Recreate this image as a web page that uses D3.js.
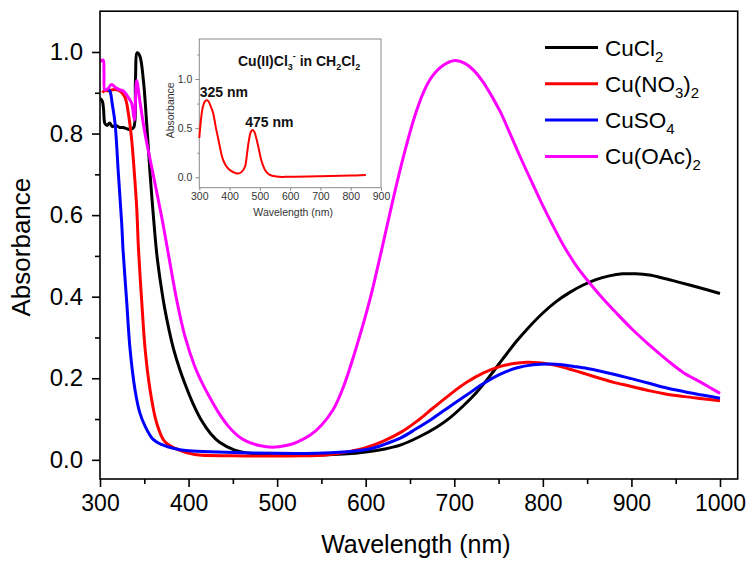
<!DOCTYPE html>
<html>
<head>
<meta charset="utf-8">
<script src="https://cdn.jsdelivr.net/npm/d3@7"></script>
<style>
  body { margin: 0; background: #fff; }
  text { font-family: "Liberation Sans", Arial, sans-serif; }
</style>
</head>
<body>
<svg id="chart" width="749" height="562"></svg>
<script>
// UV-Vis absorbance spectra of copper salts: [wavelength (nm), absorbance]
const cuCl2 = [
  [300,0.886],[302.5,0.88],[304,0.86],[305.5,0.825],[308,0.82],[311,0.826],[314,0.817],
  [318,0.82],[322,0.815],[326,0.815],[330,0.812],[334,0.81],[338,0.815],[340,0.93],
  [342,0.998],[345,0.99],[349,0.93],[352.7,0.825],[356.5,0.703],[360,0.605],[364,0.507],
  [368,0.44],[373,0.372],[378,0.318],[383,0.272],[390,0.222],[396,0.186],[405,0.138],
  [415,0.095],[425,0.064],[435,0.043],[452,0.024],[470,0.016],[500,0.012],[550,0.012],
  [575,0.014],[600,0.019],[620,0.026],[639,0.036],[660,0.056],[680,0.08],[695,0.103],
  [710,0.132],[725,0.165],[740,0.205],[755,0.248],[770,0.29],[785,0.327],[800,0.36],
  [815,0.388],[830,0.41],[845,0.428],[860,0.442],[875,0.451],[890,0.456],[905,0.456],
  [920,0.453],[935,0.446],[951,0.437],[975,0.423],[1000,0.408]
];
const cuNO32 = [
  [303,0.9],[305,0.905],[310,0.905],[316,0.908],[322,0.905],[328,0.89],[332,0.85],
  [335.8,0.784],[338.8,0.703],[341.4,0.62],[343.5,0.515],[347,0.392],[351,0.27],
  [356.5,0.172],[364,0.09],[373,0.045],[388,0.025],[407,0.013],[450,0.01],[530,0.01],
  [555,0.012],[570,0.016],[585,0.022],[600,0.03],[620,0.046],[640,0.068],[658,0.095],
  [676,0.127],[695,0.16],[714,0.19],[733,0.213],[752,0.229],[767,0.236],[782,0.239],
  [795,0.238],[808,0.234],[821,0.228],[834,0.22],[849,0.21],[864,0.2],[880,0.19],
  [900,0.18],[921,0.169],[940,0.161],[960,0.155],[980,0.15],[1000,0.145]
];
const cuSO4 = [
  [308,0.91],[311,0.905],[314,0.87],[317,0.825],[320.7,0.703],[324.5,0.58],[326,0.515],
  [330,0.392],[334,0.27],[339.5,0.172],[345,0.115],[351,0.082],[360,0.05],[370,0.037],
  [385,0.027],[400,0.022],[433,0.019],[500,0.016],[545,0.016],[575,0.019],[590,0.022],
  [605,0.027],[620,0.037],[639,0.053],[657,0.076],[676,0.102],[695,0.131],[714,0.159],
  [733,0.187],[752,0.21],[770,0.225],[789,0.233],[808,0.235],[822,0.233],[835,0.229],
  [850,0.224],[864,0.218],[880,0.21],[900,0.199],[921,0.187],[940,0.176],[960,0.167],
  [980,0.159],[1000,0.151]
];
const cuOAc2 = [
  [300,0.976],[303.5,0.98],[304.5,0.95],[305.5,0.907],[309,0.91],[313,0.92],[318,0.912],
  [322.6,0.907],[326,0.905],[330,0.895],[333,0.885],[335.8,0.874],[338.8,0.833],
  [341.4,0.93],[345,0.88],[350.8,0.8],[360,0.7],[369.6,0.596],[377,0.507],[386.6,0.392],
  [396,0.302],[407,0.229],[415,0.19],[426,0.145],[435,0.112],[445,0.082],[455,0.06],
  [464,0.047],[480,0.035],[495,0.031],[510,0.035],[522,0.043],[537,0.06],[550,0.085],
  [563,0.122],[575,0.18],[590,0.28],[605,0.395],[618,0.515],[631,0.64],[644,0.755],
  [655,0.84],[665,0.9],[675,0.94],[688,0.968],[701,0.979],[712,0.972],[722,0.955],
  [732,0.928],[742,0.893],[752,0.853],[763,0.8],[774,0.745],[786,0.688],[797,0.637],
  [810,0.58],[823,0.527],[838,0.475],[853,0.433],[868,0.395],[883,0.36],[900,0.322],
  [921,0.28],[940,0.245],[958,0.215],[980,0.188],[1000,0.163]
];
// Cu(II)Cl3- in CH2Cl2 reference spectrum (inset)
const cuCl3 = [
  [300,0.40],[306,0.6],[312,0.72],[318,0.77],[324,0.785],[330,0.775],[338,0.72],[346,0.65],
  [355,0.5],[362,0.4],[368,0.31],[376,0.2],[384,0.14],[392,0.1],[405,0.065],[418,0.045],
  [429,0.038],[440,0.055],[451,0.11],[458,0.25],[464,0.38],[470,0.46],[476,0.48],[482,0.46],
  [488,0.4],[495,0.31],[505,0.17],[517,0.075],[530,0.03],[555,0.007],[600,0.005],[700,0.01],
  [800,0.018],[850,0.022]
];

const seriesData = [cuCl2, cuNO32, cuSO4, cuOAc2];
const seriesColors = ["#000000", "#ff0000", "#0000ff", "#ff00ff"];
// legend labels as [text, isSubscript] runs
const legendRuns = [
  [["CuCl", false], ["2", true]],
  [["Cu(NO", false], ["3", true], [")", false], ["2", true]],
  [["CuSO", false], ["4", true]],
  [["Cu(OAc)", false], ["2", true]]
];

const xMajor = d3.range(300, 1001, 100);
const xMinor = d3.range(350, 1001, 100);
const yMajor = [0, 0.2, 0.4, 0.6, 0.8, 1.0];
const yMinor = [0.1, 0.3, 0.5, 0.7, 0.9];

const insetXTicks = d3.range(300, 901, 100);
const insetYTicks = [0, 0.5, 1.0];
const insetYMinor = [0.25, 0.75, 1.25];
const insetPeaks = [["325 nm", 325], ["475 nm", 475]];

const svg = d3.select("#chart");

const plot = { left: 100, right: 737.7, top: 11.2, bottom: 479 };
const x = d3.scaleLinear().domain([300, 1020]).range([plot.left, plot.right]);
const y = d3.scaleLinear().domain([-0.047, 1.1]).range([plot.bottom, plot.top]);

svg.append("defs").append("clipPath").attr("id", "plotClip")
  .append("rect").attr("x", plot.left).attr("y", plot.top)
  .attr("width", plot.right - plot.left).attr("height", plot.bottom - plot.top);

// spectra
const line = d3.line().x(d => x(d[0])).y(d => y(d[1])).curve(d3.curveCatmullRom.alpha(0.5));
const curves = svg.append("g").attr("clip-path", "url(#plotClip)");
seriesData.forEach((data, i) => {
  curves.append("path").datum(data)
    .attr("d", line)
    .attr("fill", "none")
    .attr("stroke", seriesColors[i])
    .attr("stroke-width", 3)
    .attr("stroke-linejoin", "round");
});

// frame
svg.append("rect")
  .attr("x", plot.left).attr("y", plot.top)
  .attr("width", plot.right - plot.left).attr("height", plot.bottom - plot.top)
  .attr("fill", "none").attr("stroke", "#000").attr("stroke-width", 1.6);

// axes
const xAxis = svg.append("g").attr("transform", `translate(0,${plot.bottom})`)
  .call(d3.axisBottom(x).tickValues(xMajor).tickSize(8).tickPadding(8).tickFormat(d3.format("d")));
svg.append("g").attr("transform", `translate(0,${plot.bottom})`)
  .call(d3.axisBottom(x).tickValues(xMinor).tickSize(5).tickFormat(""));
const yAxis = svg.append("g").attr("transform", `translate(${plot.left},0)`)
  .call(d3.axisLeft(y).tickValues(yMajor).tickSize(8).tickPadding(9).tickFormat(d3.format(".1f")));
svg.append("g").attr("transform", `translate(${plot.left},0)`)
  .call(d3.axisLeft(y).tickValues(yMinor).tickSize(5).tickFormat(""));
svg.selectAll(".domain").remove();
svg.selectAll(".tick line").attr("stroke", "#000").attr("stroke-width", 1.6);
xAxis.selectAll("text").attr("font-size", 23).attr("fill", "#000");
yAxis.selectAll("text").attr("font-size", 24).attr("fill", "#000");

svg.append("text").attr("x", (plot.left + plot.right) / 2 - 3).attr("y", 553)
  .attr("text-anchor", "middle").attr("font-size", 25).text("Wavelength (nm)");
svg.append("text").attr("transform", `translate(30,${(plot.top + plot.bottom) / 2 + 2}) rotate(-90)`)
  .attr("text-anchor", "middle").attr("font-size", 26).text("Absorbance");

// legend
const legend = svg.append("g");
legendRuns.forEach((runs, i) => {
  const ly = 47.5 + i * 36.3;
  legend.append("line").attr("x1", 545).attr("x2", 598).attr("y1", ly).attr("y2", ly)
    .attr("stroke", seriesColors[i]).attr("stroke-width", 3);
  const t = legend.append("text").attr("x", 605).attr("y", ly + 8).attr("font-size", 22.5);
  let sub = false;
  runs.forEach(([s, isSub]) => {
    const dy = isSub && !sub ? 6 : (!isSub && sub ? -6 : 0);
    t.append("tspan").attr("dy", dy).attr("font-size", isSub ? 15 : 22.5).text(s);
    sub = isSub;
  });
});

// inset
const inset = { left: 199.3, right: 381, top: 39, bottom: 187.7 };
const ix = d3.scaleLinear().domain([300, 900]).range([inset.left, inset.right]);
const iy = d3.scaleLinear().domain([-0.106, 1.407]).range([inset.bottom, inset.top]);
const ig = svg.append("g");
ig.append("rect").attr("x", inset.left).attr("y", inset.top)
  .attr("width", inset.right - inset.left).attr("height", inset.bottom - inset.top)
  .attr("fill", "#fff").attr("stroke", "#8a8a8a").attr("stroke-width", 1);
ig.append("path").datum(cuCl3)
  .attr("d", d3.line().x(d => ix(d[0])).y(d => iy(d[1])).curve(d3.curveCatmullRom.alpha(0.5)))
  .attr("fill", "none").attr("stroke", "#ff0000").attr("stroke-width", 2);
ig.append("g").attr("transform", `translate(0,${inset.bottom})`)
  .call(d3.axisBottom(ix).tickValues(insetXTicks).tickSize(3).tickPadding(2));
ig.append("g").attr("transform", `translate(${inset.left},0)`)
  .call(d3.axisLeft(iy).tickValues(insetYTicks).tickSize(4).tickPadding(3).tickFormat(d3.format(".1f")));
ig.append("g").attr("transform", `translate(${inset.left},0)`)
  .call(d3.axisLeft(iy).tickValues(insetYMinor).tickSize(2).tickFormat(""));
ig.selectAll(".domain").remove();
ig.selectAll(".tick line").attr("stroke", "#8a8a8a");
ig.selectAll(".tick text").attr("font-size", 10.5).attr("fill", "#333")
  .attr("font-family", "'Liberation Sans', Arial, sans-serif");
ig.append("text").attr("x", (inset.left + inset.right) / 2 + 3).attr("y", 216)
  .attr("text-anchor", "middle").attr("font-size", 10.5).attr("fill", "#333").text("Wavelength (nm)");
ig.append("text").attr("transform", `translate(174,${(inset.top + inset.bottom) / 2 - 3}) rotate(-90)`)
  .attr("text-anchor", "middle").attr("font-size", 10.5).attr("fill", "#333").text("Absorbance");

// inset title with sub/superscripts
const title = ig.append("text").attr("x", 238).attr("y", 66).attr("font-size", 14)
  .attr("font-weight", "bold").attr("fill", "#111");
title.append("tspan").text("Cu(II)Cl");
title.append("tspan").attr("dy", 4).attr("font-size", 9).text("3");
title.append("tspan").attr("dy", -11).attr("font-size", 9).text("-");
title.append("tspan").attr("dy", 7).text(" in CH");
title.append("tspan").attr("dy", 4).attr("font-size", 9).text("2");
title.append("tspan").attr("dy", -4).text("Cl");
title.append("tspan").attr("dy", 4).attr("font-size", 9).text("2");

// peak annotations, placed just above each maximum of the inset spectrum
insetPeaks.forEach(([label, nm]) => {
  const peak = cuCl3.find(d => d[0] >= nm - 1);
  ig.append("text").attr("x", ix(nm) + 17).attr("y", iy(peak[1]) - 3)
    .attr("text-anchor", "middle").attr("font-size", 14).attr("font-weight", "bold")
    .attr("fill", "#111").text(label);
});
</script>
</body>
</html>
